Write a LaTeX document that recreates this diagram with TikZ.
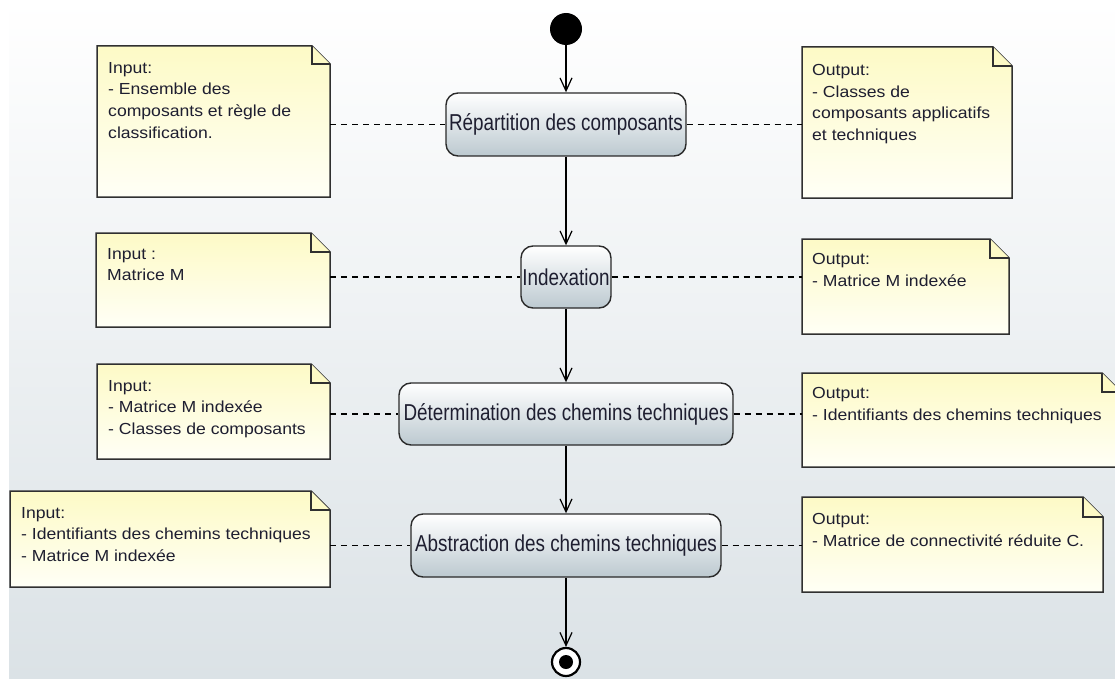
\documentclass[tikz,border=0pt]{standalone}
\usepackage{fontspec}
\setmainfont{Liberation Sans}
\newfontfamily\boxfont[FakeStretch=0.82]{Liberation Sans}
\newfontfamily\notefont[FakeStretch=1.1]{Liberation Sans}
\usetikzlibrary{arrows.meta,shapes.geometric}
\definecolor{bgbot}{HTML}{DBE2E6}
\definecolor{boxbot}{HTML}{BCC9D0}
\definecolor{boxline}{HTML}{2A2A2A}
\definecolor{notetop}{HTML}{FDFAC6}
\definecolor{notebot}{HTML}{FFFFF6}
\definecolor{noteline}{HTML}{303030}
\definecolor{txt}{HTML}{1E1E30}
\newcommand\umlnote[6]{%
  \node[notearea, anchor=north west, minimum width={#4pt-#2pt}, minimum height={#5pt-#3pt}] (#1) at (#2,#3) {};
  \path[notefill] (#1.north west) -- ([xshift=-#6pt]#1.north east) -- ([yshift=-#6pt]#1.north east) -- (#1.south east) -- (#1.south west) -- cycle;
  \draw[notefold] ([xshift=-#6pt]#1.north east) -- ([xshift=-#6pt,yshift=-#6pt]#1.north east) -- ([yshift=-#6pt]#1.north east);
}
\begin{document}
\begin{tikzpicture}[x=1pt,y=-1pt,
  notearea/.style={rectangle, draw=none, inner sep=0, outer sep=0},
  notefill/.style={draw=noteline, line width=1.5, top color=notetop, bottom color=notebot, line join=miter},
  notefold/.style={draw=noteline, line width=1.2, fill=notetop},
  notetext/.style={anchor=north west, inner sep=0, align=left, text=txt, font=\notefont\fontsize{16}{21.7}\selectfont},
  act/.style={rectangle, draw=boxline, line width=1.4, rounded corners=12, top color=white, bottom color=boxbot, inner sep=0, text=txt, font=\boxfont\fontsize{23}{27}\selectfont},
  flow/.style={draw=black, line width=1.2, -{Straight Barb[length=13pt,width=12pt]}},
  assoc/.style={draw=black, line width=1.2, dash pattern=on 6pt off 5pt}
]
\useasboundingbox (0,0) rectangle (1115,679);
\clip (0,0) rectangle (1115,679);
\fill[white] (0,0) rectangle (1115,679);
\fill[top color=white, bottom color=bgbot] (9,0) rectangle (1115,679);

% notes
\umlnote{n1}{97}{46}{330}{197}{18}
\umlnote{n2}{802}{47}{1012}{198}{19}
\umlnote{n3}{96}{233}{330}{327}{19}
\umlnote{n4}{802}{239}{1009}{334}{19}
\umlnote{n5}{97}{364}{330}{459}{19}
\umlnote{n6}{802}{373}{1121}{467}{19}
\umlnote{n7}{10}{491}{330}{587}{19}
\umlnote{n8}{802}{497}{1103}{592}{20}

\node[notetext] (n1t) at (108,62) {Input:\\- Ensemble des\\composants et règle de\\classification.};
\node[notetext] (n2t) at (812,64) {Output:\\- Classes de\\composants applicatifs\\et techniques};
\node[notetext] (n3t) at (107,248) {Input :\\Matrice M};
\node[notetext] (n4t) at (812,253) {Output:\\- Matrice M indexée};
\node[notetext] (n5t) at (108,380) {Input:\\- Matrice M indexée\\- Classes de composants};
\node[notetext] (n6t) at (812,387) {Output:\\- Identifiants des chemins techniques};
\node[notetext] (n7t) at (21,507) {Input:\\- Identifiants des chemins techniques\\- Matrice M indexée};
\node[notetext] (n8t) at (812,513) {Output:\\- Matrice de connectivité réduite C.};

% activities
\node[act, minimum width=240, minimum height=63] (b1) at (566,124.5) {Répartition des composants};
\node[act, minimum width=90, minimum height=62] (b2) at (566,277) {Indexation};
\node[act, minimum width=334, minimum height=62] (b3) at (566,414) {Détermination des chemins techniques};
\node[act, minimum width=310, minimum height=63] (b4) at (566,545.5) {Abstraction des chemins techniques};

% start / end
\node[circle, fill=black, minimum size=32, inner sep=0] (start) at (566,29) {};
\node[circle, draw=black, line width=2.2, fill=white, minimum size=28, inner sep=0] (end) at (566,662) {};
\node[circle, fill=black, minimum size=14, inner sep=0] (endin) at (end.center) {};

% flows
\draw[flow] (start) -- (b1);
\draw[flow] (b1) -- (b2);
\draw[flow] (b2) -- (b3);
\draw[flow] (b3) -- (b4);
\draw[flow] (b4) -- (end);

% associations
\draw[assoc] (n1.east |- b1.west) -- (b1.west);
\draw[assoc] (b1.east) -- (b1.east -| n2.west);
\draw[assoc] (n3.east |- b2.west) -- (b2.west);
\draw[assoc] (b2.east) -- (b2.east -| n4.west);
\draw[assoc] (n5.east |- b3.west) -- (b3.west);
\draw[assoc] (b3.east) -- (b3.east -| n6.west);
\draw[assoc] (n7.east |- b4.west) -- (b4.west);
\draw[assoc] (b4.east) -- (b4.east -| n8.west);
\end{tikzpicture}
\end{document}
